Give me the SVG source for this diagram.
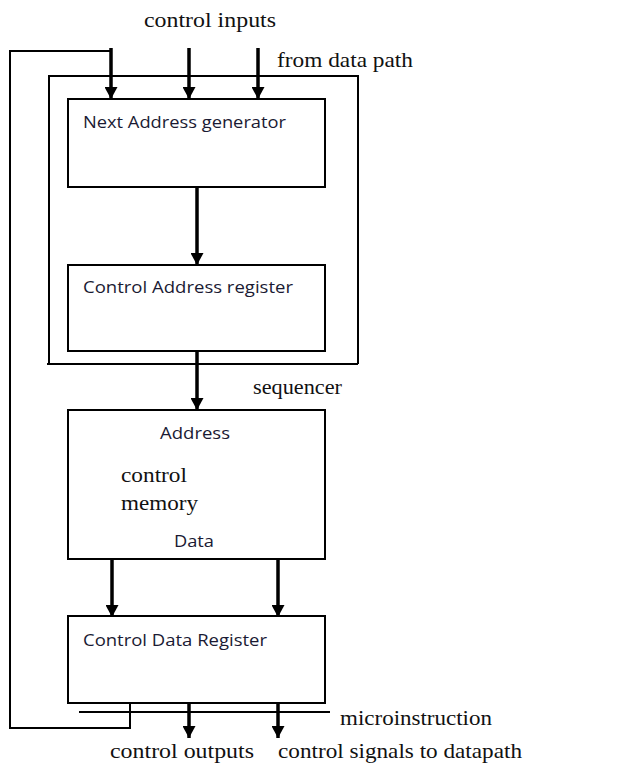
<svg xmlns="http://www.w3.org/2000/svg" width="637" height="767" viewBox="0 0 637 767">
<defs>
<marker id="ah" markerUnits="userSpaceOnUse" markerWidth="14" markerHeight="13" refX="12" refY="6.5" orient="auto">
<path d="M0,0 L12,6.5 L0,13 Z" fill="#000"/>
</marker>
<style>
.box{fill:#fff;stroke:#000;stroke-width:2}
.ln{fill:none;stroke:#000;stroke-width:2}
.ar{fill:none;stroke:#000;stroke-width:3.5;marker-end:url(#ah)}
.sr{font-family:"Liberation Serif","Times New Roman",serif;font-size:21px;fill:#111}
.ss{font-family:"Open Sans","Noto Sans",sans-serif;font-size:16px;fill:#1a1a33}
</style>
</defs>
<rect width="637" height="767" fill="#fff"/>
<g id="sequencer">
<path class="ln" d="M49,364 L49,76 L358,76 L358,364 M47,364 L358,364"/>
<text class="sr" x="253" y="394" textLength="89" lengthAdjust="spacingAndGlyphs">sequencer</text>
</g>
<g id="next-address-generator">
<rect class="box" x="68" y="99" width="257" height="88"/>
<text class="ss" x="83" y="128" textLength="203" lengthAdjust="spacingAndGlyphs">Next Address generator</text>
</g>
<g id="control-address-register">
<rect class="box" x="68" y="265" width="257" height="86"/>
<text class="ss" x="83" y="293" textLength="210" lengthAdjust="spacingAndGlyphs">Control Address register</text>
</g>
<g id="control-memory">
<rect class="box" x="68" y="410" width="257" height="149"/>
<text class="ss" x="160" y="439" textLength="70" lengthAdjust="spacingAndGlyphs">Address</text>
<text class="sr" x="121" y="482" textLength="66" lengthAdjust="spacingAndGlyphs">control</text>
<text class="sr" x="121" y="510" textLength="77" lengthAdjust="spacingAndGlyphs">memory</text>
<text class="ss" x="174" y="547" textLength="40" lengthAdjust="spacingAndGlyphs">Data</text>
</g>
<g id="control-data-register">
<rect class="box" x="68" y="616" width="257" height="87"/>
<text class="ss" x="83" y="646" textLength="184" lengthAdjust="spacingAndGlyphs">Control Data Register</text>
</g>
<g id="connectors">
<path class="ln" d="M130,703 L130,728 L10,728 L10,51 L111,51"/>
<path class="ln" d="M79,712 L330,712"/>
<path class="ar" d="M111,48 L111,99"/>
<path class="ar" d="M189,48 L189,99"/>
<path class="ar" d="M258,48 L258,99"/>
<path class="ar" d="M197,187 L197,265"/>
<path class="ar" d="M197,351 L197,410"/>
<path class="ar" d="M112,559 L112,617"/>
<path class="ar" d="M278,559 L278,617"/>
<path class="ar" d="M189,703 L189,738"/>
<path class="ar" d="M278,702 L278,738"/>
</g>
<g id="labels">
<text class="sr" x="144" y="27" textLength="132" lengthAdjust="spacingAndGlyphs">control inputs</text>
<text class="sr" x="277" y="67" textLength="136" lengthAdjust="spacingAndGlyphs">from data path</text>
<text class="sr" x="340" y="725" textLength="152" lengthAdjust="spacingAndGlyphs">microinstruction</text>
<text class="sr" x="110" y="758" textLength="144" lengthAdjust="spacingAndGlyphs">control outputs</text>
<text class="sr" x="278" y="758" textLength="244" lengthAdjust="spacingAndGlyphs">control signals to datapath</text>
</g>
</svg>
